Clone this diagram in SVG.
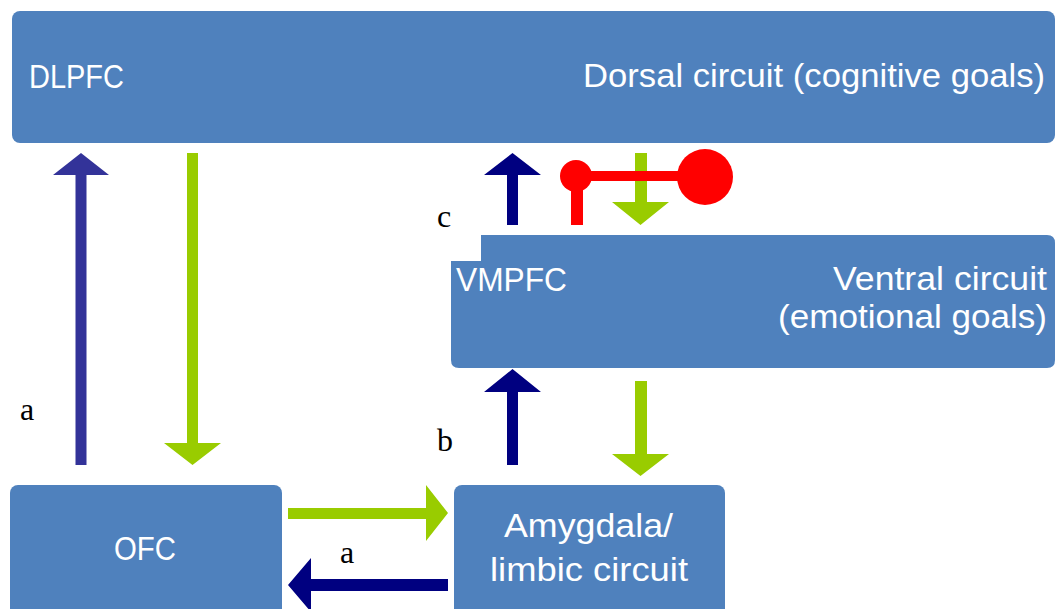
<svg xmlns="http://www.w3.org/2000/svg" width="1058" height="609" viewBox="0 0 1058 609">
<style>
.box{fill:#4F81BD}
.t{fill:#FFFFFF;font-family:"Liberation Sans",Arial,sans-serif;font-size:33px}
.lbl{fill:#000000;font-family:"Liberation Serif","Times New Roman",serif;font-size:32px}
.navy{fill:#000080}
.indigo{fill:#333399}
.green{fill:#99CC00}
.red{fill:#FF0000}
</style>
<rect width="1058" height="609" fill="#FFFFFF"/>
<g id="dlpfc">
<rect class="box" x="12" y="11" width="1043" height="132" rx="8"/>
<text class="t" x="29" y="88" textLength="95" lengthAdjust="spacingAndGlyphs">DLPFC</text>
<text class="t" x="583" y="87" textLength="462" lengthAdjust="spacingAndGlyphs">Dorsal circuit (cognitive goals)</text>
</g>
<g id="vmpfc">
<path class="box" d="M481,235 H1047 Q1055,235 1055,243 V360 Q1055,368 1047,368 H459 Q451,368 451,360 V261 H481 Z"/>
<text class="t" x="456" y="291" textLength="111" lengthAdjust="spacingAndGlyphs">VMPFC</text>
<text class="t" x="833" y="290" textLength="214" lengthAdjust="spacingAndGlyphs">Ventral circuit</text>
<text class="t" x="778" y="328" textLength="269" lengthAdjust="spacingAndGlyphs">(emotional goals)</text>
</g>
<g id="ofc">
<rect class="box" x="10" y="485" width="272" height="140" rx="8"/>
<text class="t" x="114" y="560" textLength="62" lengthAdjust="spacingAndGlyphs">OFC</text>
</g>
<g id="amygdala">
<rect class="box" x="454" y="485" width="271" height="140" rx="8"/>
<text class="t" x="504" y="537" textLength="169" lengthAdjust="spacingAndGlyphs">Amygdala/</text>
<text class="t" x="490" y="581" textLength="198" lengthAdjust="spacingAndGlyphs">limbic circuit</text>
</g>
<g id="connectors">
<polygon class="indigo" points="75.5,465 86.5,465 86.5,175 109,175 81,153 53,175 75.5,175"/>
<polygon class="green" points="187,153 198,153 198,443 221,443 192.5,465 164,443 187,443"/>
<polygon class="navy" points="507,225 518,225 518,175 541,175 512.5,153 484,175 507,175"/>
<polygon class="green" points="635,153 647,153 647,202 669,202 640.5,225 612,202 635,202"/>
<polygon class="navy" points="507,465 518,465 518,392 541,392 512.5,369 484,392 507,392"/>
<polygon class="green" points="635,381 647,381 647,454 669,454 640.5,476 612,454 635,454"/>
<polygon class="green" points="288,508 426,508 426,485 448,513 426,541 426,519 288,519"/>
<polygon class="navy" points="448,579 311,579 311,558 288,585 311,612 311,591 448,591"/>
<g id="inhibition">
<rect class="red" x="571" y="176" width="12" height="49"/>
<rect class="red" x="576" y="171" width="129" height="10"/>
<circle class="red" cx="576" cy="176" r="16"/>
<circle class="red" cx="705" cy="177" r="28"/>
</g>
</g>
<g id="labels">
<text class="lbl" x="20" y="420">a</text>
<text class="lbl" x="437" y="227">c</text>
<text class="lbl" x="437" y="451">b</text>
<text class="lbl" x="340" y="563">a</text>
</g>
</svg>
